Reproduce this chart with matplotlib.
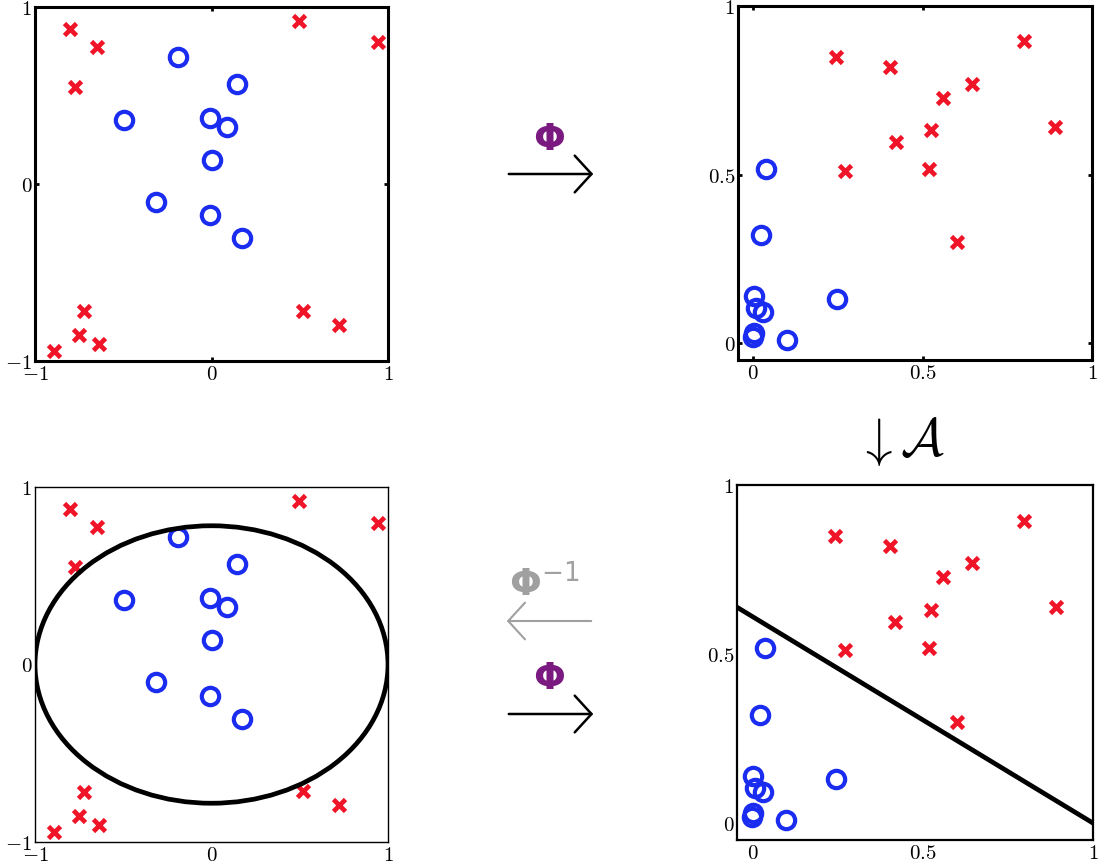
import matplotlib
matplotlib.use("Agg")
import matplotlib.pyplot as plt
from matplotlib.patches import Ellipse, FancyArrowPatch
import numpy as np

plt.rcParams['mathtext.fontset'] = 'cm'

# ---- data: input space (x1, x2) ----
blue_x = [-0.19, 0.145, -0.496, -0.008, 0.088, 0.003, -0.314, -0.008, 0.173]
blue_y = [0.72, 0.565, 0.362, 0.373, 0.322, 0.136, -0.10, -0.175, -0.305]
red_x = [-0.803, -0.648, -0.775, 0.494, 0.944, -0.721, -0.749, -0.636, -0.893, 0.521, 0.724]
red_y = [0.877, 0.772, 0.548, 0.921, 0.800, -0.719, -0.853, -0.905, -0.946, -0.715, -0.794]

# ---- data: feature space Phi = (x1^2, x2^2) ----
blue_px = [0.037, 0.022, 0.246, 0.001, 0.008, 0.000, 0.099, 0.001, 0.030]
blue_py = [0.517, 0.320, 0.131, 0.139, 0.104, 0.019, 0.010, 0.031, 0.093]
red_px = [0.645, 0.420, 0.601, 0.244, 0.891, 0.520, 0.561, 0.404, 0.798, 0.271, 0.524]
red_py = [0.769, 0.596, 0.300, 0.848, 0.640, 0.517, 0.728, 0.819, 0.895, 0.511, 0.631]

# linear boundary in feature space: u + v / b2 = 1  (ellipse x^2 + y^2/b2 = 1)
b2 = 0.611
line_u = [-0.045, 1.0]

in_ticks = [-1, 0, 1]
in_labels = ['$-1$', '$0$', '$1$']
ft_ticks = [0, 0.5, 1]
ft_labels = ['$0$', '$0.5$', '$1$']

BLUE = '#1a2cf0'
RED = '#f01428'
PURPLE = '#7a1a80'
GREY = '#a0a0a0'

W, H = 1102, 866
fig = plt.figure(figsize=(W / 100, H / 100), dpi=100)


def fr(l, t, r, b):
    return [l / W, 1 - b / H, (r - l) / W, (b - t) / H]


def style(ax, ticks, labels, lim, spine_w, show_ticks):
    ax.set_xlim(lim)
    ax.set_ylim(lim)
    ax.set_xticks(ticks)
    ax.set_yticks(ticks)
    ax.set_xticklabels(labels)
    ax.set_yticklabels(labels)
    for s in ax.spines.values():
        s.set_linewidth(spine_w)
    ax.tick_params(direction='in', top=True, right=True, labelsize=15,
                   length=3 if show_ticks else 0, width=2, pad=2)


def scatter(ax, bx, by, rx, ry):
    ax.plot(bx, by, 'o', ls='none', ms=12.5, mfc='none', mec=BLUE, mew=3.0, zorder=3)
    ax.plot(rx, ry, 'x', ls='none', ms=8, mec=RED, mew=3.4, zorder=3)


ax1 = fig.add_axes(fr(35, 7, 388, 361))
scatter(ax1, blue_x, blue_y, red_x, red_y)
style(ax1, in_ticks, in_labels, (-1, 1), 2.2, True)

ax2 = fig.add_axes(fr(738, 6, 1092, 360))
scatter(ax2, blue_px, blue_py, red_px, red_py)
style(ax2, ft_ticks, ft_labels, (-0.045, 1.0), 2.2, True)
ax2.set_ylim(-0.05, 1.0)

ax3 = fig.add_axes(fr(35, 487, 388, 842))
scatter(ax3, blue_x, blue_y, red_x, red_y)
ax3.add_patch(Ellipse((0, 0), 2.0, 2 * np.sqrt(b2), fill=False, ec='black', lw=3.4, zorder=4))
style(ax3, in_ticks, in_labels, (-1, 1), 1.0, False)

ax4 = fig.add_axes(fr(737, 485, 1093, 840))
scatter(ax4, blue_px, blue_py, red_px, red_py)
line_v = [b2 * (1 - u) for u in line_u]
ax4.plot(line_u, line_v, color='black', lw=3.4, zorder=4)
style(ax4, ft_ticks, ft_labels, (-0.045, 1.0), 1.6, False)
ax4.set_ylim(-0.05, 1.0)


def arrow(x0, x1, y, color, lw=1.8):
    a = FancyArrowPatch((x0 / W, 1 - y / H), (x1 / W, 1 - y / H),
                        transform=fig.transFigure,
                        arrowstyle='->,head_length=0.55,head_width=0.6',
                        color=color, lw=lw, mutation_scale=22)
    fig.add_artist(a)


# top: Phi arrow
fig.text(549 / W, 1 - 140 / H, 'Φ', color=PURPLE, fontsize=27, fontweight='bold',
         family='DejaVu Sans', ha='center', va='center')
arrow(506, 596, 174, 'black')

# bottom: Phi^{-1} (grey) and Phi
fig.text(544 / W, 1 - 584 / H, r'$\mathbf{\Phi}^{-1}$', color=GREY, fontsize=27,
         math_fontfamily='dejavusans', ha='center', va='center')
arrow(594, 504, 621, GREY, lw=1.5)
fig.text(549 / W, 1 - 679 / H, 'Φ', color=PURPLE, fontsize=27, fontweight='bold',
         family='DejaVu Sans', ha='center', va='center')
arrow(506, 596, 714, 'black')

# right: down arrow A
fig.text(901 / W, 1 - 441 / H, r'$\downarrow\mathcal{A}$', color='black', fontsize=38,
         ha='center', va='center')

fig.savefig('out.png', dpi=100)
